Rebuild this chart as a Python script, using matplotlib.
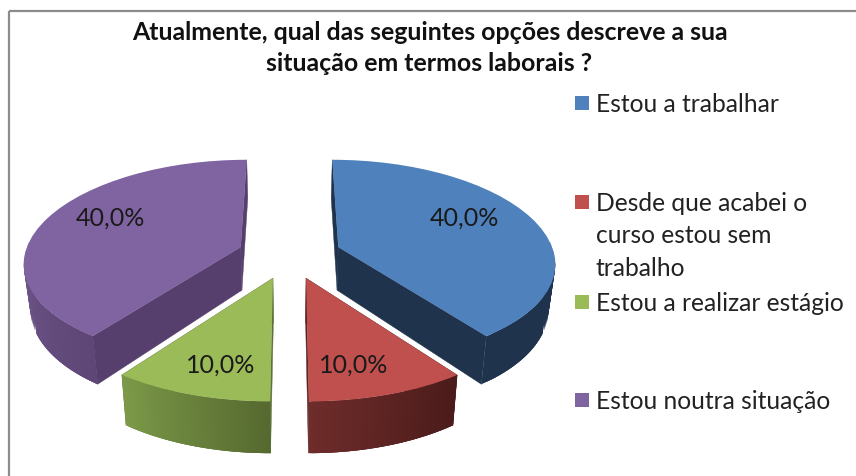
import numpy as np
import matplotlib
matplotlib.use("Agg")
import matplotlib.pyplot as plt
from matplotlib.collections import PolyCollection
from matplotlib.patches import Rectangle
from matplotlib.transforms import Transform
from matplotlib.colors import to_rgb

# Data
categories = ["Estou a trabalhar", "Desde que acabei o\ncurso estou sem\ntrabalho",
              "Estou a realizar estágio", "Estou noutra situação"]
values = [40.0, 10.0, 10.0, 40.0]
title = "Atualmente, qual das seguintes opções descreve a sua\nsituação em termos laborais ?"

# Style
top_colors = ["#4F81BD", "#C0504D", "#9BBB59", "#8064A2"]
radial_colors = ["#1F334D", "#5C2523", "#5E7136", "#563F6C"]
arc_left = ["#1F334D", "#6E2C2A", "#7C9A48", "#705A8C"]
arc_right = ["#1F334D", "#4A1B1A", "#566930", "#5E4676"]
label_xy = [(464, 218), (354, 365), (221, 365), (110, 218)]
legend_y = [104, 203, 303, 401]

# Projection parameters (pixels)
CX, Y0, A, B, K, KX, DEPTH, SHRINK = 289.5, 255.5, 216.0, 100.5, 0.13, 0.142, 43.5, 0.975
EXPLODE = 0.24


def project(u, v, bottom=False):
    u, v = np.asarray(u, float), np.asarray(v, float)
    s = 1.0 / (1.0 + K * v)
    x = A * u / (1.0 + KX * v)
    y = Y0 - B * v * s
    if bottom:
        x = x * SHRINK
        y = y + DEPTH * s
    return np.column_stack([CX + x, y])


class Perspective(Transform):
    input_dims = output_dims = 2
    has_inverse = False
    is_affine = False

    def transform_non_affine(self, values):
        values = np.asarray(values)
        return project(values[:, 0], values[:, 1])


fig = plt.figure(figsize=(8.56, 4.77), dpi=100, facecolor="white")
ax = fig.add_axes([0, 0, 1, 1])

wedges, _, autotexts = ax.pie(
    values, colors=top_colors, explode=[EXPLODE] * len(values), startangle=90,
    counterclock=False, radius=1.0, autopct=lambda p: f"{p:.1f}%".replace(".", ","),
    wedgeprops=dict(linewidth=0), textprops=dict(family="Lato", fontsize=18, color="#1a1a1a"))

ax.set_aspect("auto")
ax.set_xlim(0, 856)
ax.set_ylim(477, 0)
ax.axis("off")

persp = Perspective()
for i, w in enumerate(wedges):
    w.set_transform(persp + ax.transData)
    w.set_clip_on(False)
    w.set_zorder(5)
    cu, cv = w.center
    th = np.radians([w.theta1, w.theta2])
    # flat radial faces
    polys = []
    for t in th:
        ru, rv = [cu, cu + np.cos(t)], [cv, cv + np.sin(t)]
        a = project(ru, rv)
        b = project(ru, rv, bottom=True)
        polys.append(np.vstack([a, b[::-1]]))
    ax.add_collection(PolyCollection(polys, facecolors=radial_colors[i],
                                     edgecolors=radial_colors[i], linewidths=0.3, zorder=2))
    # curved outer wall with a left-to-right shade; each strip overlaps the next to avoid seams
    ts = np.linspace(th[0], th[1], 90)
    ts = ts[np.sin(ts) <= 0.06]
    au, av = cu + np.cos(ts), cv + np.sin(ts)
    a = project(au, av)
    b = project(au, av, bottom=True)
    order = np.argsort(a[:, 0])
    a, b = a[order], b[order]
    quads, cols = [], []
    c0, c1 = np.array(to_rgb(arc_left[i])), np.array(to_rgb(arc_right[i]))
    n = len(a)
    for j in range(n - 1):
        k = min(j + 3, n - 1)
        quads.append(np.vstack([a[j:k + 1], b[j:k + 1][::-1]]))
        f = j / max(n - 2, 1)
        cols.append(c0 * (1 - f) + c1 * f)
    ax.add_collection(PolyCollection(quads, facecolors=cols, edgecolors="none",
                                     linewidths=0, zorder=3))

for t, xy in zip(autotexts, label_xy):
    t.set_position(xy)
    t.set_zorder(6)

# Frame
ax.add_patch(Rectangle((9.5, 12), 1000, 1000, fill=False, edgecolor="#8C8C8C", linewidth=1.6, zorder=1))

# Title
ax.text(429.5, 48, title, ha="center", va="center", family="Lato", weight="bold",
        fontsize=17.9, color="#111111", linespacing=1.42)

# Legend
for name, col, y in zip(categories, top_colors, legend_y):
    ax.add_patch(Rectangle((575, y - 7), 14, 14, facecolor=col, edgecolor="none"))
    ax.text(596, y - 11, name, ha="left", va="top", family="Lato", fontsize=17.7,
            color="#222222", linespacing=1.5)

fig.savefig("out.png", dpi=100)
